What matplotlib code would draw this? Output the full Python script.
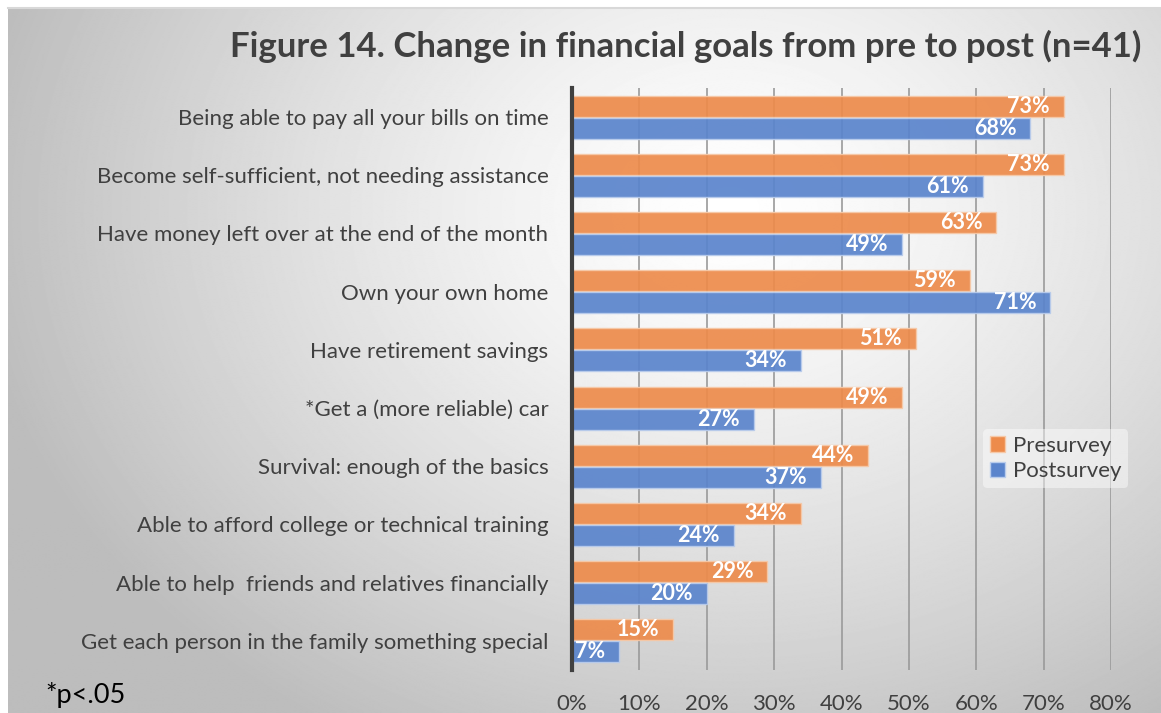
import numpy as np
import matplotlib
matplotlib.use("Agg")
import matplotlib.pyplot as plt
from matplotlib.patches import Patch

plt.rcParams['font.family'] = ['Lato', 'DejaVu Sans']

categories = [
    "Being able to pay all your bills on time",
    "Become self-sufficient, not needing assistance",
    "Have money left over at the end of the month",
    "Own your own home",
    "Have retirement savings",
    "*Get a (more reliable) car",
    "Survival: enough of the basics",
    "Able to afford college or technical training",
    "Able to help  friends and relatives financially",
    "Get each person in the family something special",
]
pre = [73, 73, 63, 59, 51, 49, 44, 34, 29, 15]
post = [68, 61, 49, 71, 34, 27, 37, 24, 20, 7]
xticks = [0, 10, 20, 30, 40, 50, 60, 70, 80]

orange = "#ED8B4B"
blue = "#5A84CC"
text_gray = "#404040"

W, H = 1161, 713
fig = plt.figure(figsize=(W / 100, H / 100), dpi=100)
fig.patch.set_facecolor("white")

# radial gray-to-white backdrop
bg = fig.add_axes([8 / W, 0, 1 - 8 / W, 1 - 8 / H])
yy, xx = np.mgrid[0:700, 0:1150]
cx, cy = 720, 200
r = np.sqrt(((xx - cx) / 780.0) ** 2 + ((yy - cy) / 620.0) ** 2)
shade = np.clip(1.0 - 0.27 * r ** 1.3, 0.74, 1.0)
bg.imshow(shade, cmap="gray", vmin=0, vmax=1, aspect="auto", interpolation="bilinear")
bg.axis("off")
bg.plot([0, 1], [1, 1], transform=bg.transAxes, color="#d8d8d8", lw=1.5, clip_on=False)

ax = fig.add_axes([572 / W, 43 / H, 539 / W, 582 / H])
ax.set_facecolor("none")

y = np.arange(len(categories))
off, h = 0.19, 0.36
b1 = ax.barh(y - off, pre, height=h, color=orange, alpha=0.92,
             edgecolor="#f6c9a8", linewidth=1, zorder=3, label="Presurvey")
b2 = ax.barh(y + off, post, height=h, color=blue, alpha=0.92,
             edgecolor="#b9ccec", linewidth=1, zorder=3, label="Postsurvey")

for bars, vals in ((b1, pre), (b2, post)):
    for bar, v in zip(bars, vals):
        ax.annotate(f"{v}%", (v, bar.get_y() + bar.get_height() / 2),
                    xytext=(-10, 0), textcoords="offset points",
                    ha="right", va="center", color="white",
                    fontsize=15.5, fontweight="bold", zorder=4)

ax.set_xlim(0, 80)
ax.set_ylim(len(categories) - 0.5, -0.5)
ax.set_xticks(xticks)
ax.set_xticklabels([f"{t}%" for t in xticks], fontsize=16, color=text_gray)
ax.set_yticks(y)
ax.set_yticklabels(categories, fontsize=16, color=text_gray)
ax.tick_params(axis="both", length=0)
ax.tick_params(axis="x", pad=17)
ax.tick_params(axis="y", pad=17)
ax.grid(axis="x", color="#9a9a9a", linewidth=1.2, zorder=1)
for side in ("top", "right", "bottom"):
    ax.spines[side].set_visible(False)
ax.spines["left"].set_color("#404040")
ax.spines["left"].set_linewidth(3)
ax.spines["left"].set_zorder(5)

leg = fig.legend(handles=[Patch(facecolor=orange, edgecolor="#f6c9a8"),
                          Patch(facecolor=blue, edgecolor="#b9ccec")],
                 labels=["Presurvey", "Postsurvey"],
                 loc="upper left", bbox_to_anchor=(972 / W, 1 - 418 / H),
                 fontsize=16, frameon=True, handlelength=0.7, handleheight=0.7,
                 handletextpad=0.35, labelspacing=0.25, borderpad=0.3,
                 labelcolor=text_gray)
leg.get_frame().set_facecolor("white")
leg.get_frame().set_alpha(0.45)
leg.get_frame().set_edgecolor("none")

fig.text(1141 / W, 1 - 46 / H, "Figure 14. Change in financial goals from pre to post (n=41)",
         ha="right", va="center", fontsize=25, fontweight="bold", color=text_gray)
fig.text(45 / W, 1 - 695 / H, "*p<.05", ha="left", va="center", fontsize=19.5, color="black")

fig.savefig("out.png", dpi=100)
